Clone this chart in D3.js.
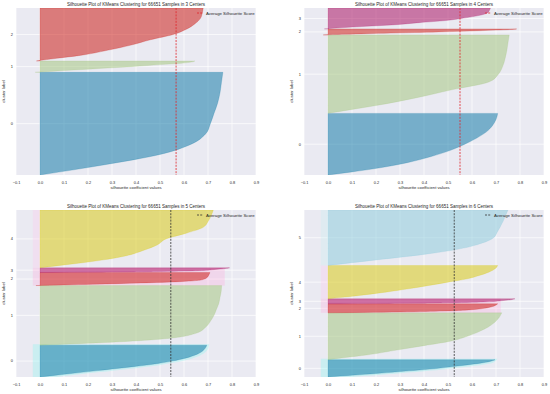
<!DOCTYPE html>
<html>
<head>
<meta charset="utf-8">
<script src="https://cdn.jsdelivr.net/npm/d3@7"></script>
<style>
  body { margin: 0; background: #fff; }
  svg { display: block; font-family: "Liberation Sans", Arial, sans-serif; }
</style>
</head>
<body>
<svg width="550" height="394"></svg>
<script>
// ---- data ----
const sampleCount = 66651;
const centerCounts = [3, 4, 5, 6];
const avgScores = [0.567, 0.55, 0.545, 0.526];
const xTicks = [-0.1, 0.0, 0.1, 0.2, 0.3, 0.4, 0.5, 0.6, 0.7, 0.8, 0.9];
// silhouette values (sorted) read at these positions of each cluster band
const quantiles = [0, 0.05, 0.1, 0.2, 0.3, 0.4, 0.5, 0.6, 0.7, 0.8, 0.9, 1];

const sizes3 = [40990, 4532, 21129];
const sizes4 = [24594, 31326, 2400, 8331];
const sizes5 = [12700, 23800, 5200, 1870, 23081];
const sizes6 = [6900, 18700, 3600, 2000, 13300, 22151];

const silhouette3 = [
  [0.0, 0.14, 0.27, 0.5, 0.63, 0.69, 0.71, 0.725, 0.74, 0.75, 0.756, 0.762],
  [-0.02, 0.02, 0.06, 0.14, 0.22, 0.3, 0.38, 0.45, 0.52, 0.59, 0.63, 0.645],
  [-0.015, 0.07, 0.16, 0.28, 0.38, 0.46, 0.555, 0.61, 0.645, 0.668, 0.676, 0.68]
];
const silhouette4 = [
  [0.0, 0.1, 0.19, 0.33, 0.43, 0.51, 0.57, 0.62, 0.66, 0.685, 0.7, 0.707],
  [0.0, 0.1, 0.2, 0.37, 0.515, 0.67, 0.71, 0.728, 0.738, 0.745, 0.75, 0.755],
  [-0.02, 0.02, 0.07, 0.16, 0.26, 0.36, 0.46, 0.55, 0.63, 0.7, 0.76, 0.786],
  [-0.015, 0.05, 0.12, 0.28, 0.38, 0.49, 0.555, 0.61, 0.65, 0.668, 0.673, 0.677]
];
const silhouette5 = [
  [0.0, 0.06, 0.12, 0.24, 0.36, 0.47, 0.55, 0.61, 0.65, 0.675, 0.688, 0.695],
  [0.0, 0.3, 0.5, 0.65, 0.69, 0.71, 0.725, 0.735, 0.745, 0.75, 0.755, 0.757],
  [-0.017, 0.1, 0.22, 0.42, 0.58, 0.66, 0.685, 0.695, 0.7, 0.703, 0.706, 0.708],
  [0.05, 0.2, 0.35, 0.5, 0.6, 0.66, 0.7, 0.72, 0.74, 0.76, 0.78, 0.79],
  [0.0, 0.1, 0.2, 0.35, 0.43, 0.49, 0.525, 0.61, 0.68, 0.7, 0.713, 0.722]
];
const silhouette6 = [
  [0.0, 0.05, 0.1, 0.2, 0.29, 0.38, 0.46, 0.52, 0.58, 0.635, 0.675, 0.696],
  [0.0, 0.08, 0.16, 0.28, 0.4, 0.515, 0.58, 0.63, 0.668, 0.695, 0.713, 0.724],
  [0.0, 0.15, 0.3, 0.48, 0.57, 0.62, 0.65, 0.67, 0.685, 0.695, 0.702, 0.707],
  [0.05, 0.2, 0.35, 0.5, 0.6, 0.66, 0.7, 0.72, 0.74, 0.76, 0.77, 0.779],
  [0.0, 0.07, 0.13, 0.24, 0.335, 0.42, 0.5, 0.58, 0.63, 0.67, 0.696, 0.707],
  [0.0, 0.1, 0.2, 0.4, 0.55, 0.64, 0.69, 0.705, 0.718, 0.73, 0.74, 0.75]
];

// ---- styling ----
const palette = ["#0272a2", "#9fc377", "#ca0b03", "#a50258", "#d7c703", "#88cada"];
const bg = "#eaeaf2";
const textColor = "#262626";

const panels = [
  { left: 16, top: 8, sizes: sizes3, values: silhouette3, avgColor: "#e0242a", ghost: [] },
  { left: 304, top: 8, sizes: sizes4, values: silhouette4, avgColor: "#e0242a", ghost: [] },
  { left: 16, top: 210, sizes: sizes5, values: silhouette5, avgColor: "#333",
    ghost: [{ c: 0, col: "#8ff7f2", halo: true }, { c: [2, 3], col: "#ffa8dc", full: 0.77 }, { c: 4, col: "#ffc8ec" }] },
  { left: 304, top: 210, sizes: sizes6, values: silhouette6, avgColor: "#333",
    ghost: [{ c: 0, col: "#8ff7f2", halo: true }, { c: [2, 3], col: "#ffa8dc", full: 0.72 }, { c: 4, col: "#ffc8ec" }, { c: 5, col: "#c8eef0" }] }
];
const W = 240, H = 167;

const svg = d3.select("svg");

panels.forEach(function (p, pi) {
  const k = centerCounts[pi];
  const g = svg.append("g");
  const right = p.left + W, bottom = p.top + H;

  const x = d3.scaleLinear().domain([-0.1, 0.9]).range([p.left, right]);
  const total = d3.sum(p.sizes) + 10 * (k + 1);
  const y = d3.scaleLinear().domain([0, total]).range([bottom, p.top]);

  // cluster bands like yellowbrick: 10 samples gap between clusters
  let yl = 10;
  const bands = p.sizes.map(function (s) {
    const b = { lo: yl, hi: yl + s, size: s };
    yl = yl + s + 10;
    return b;
  });

  g.append("rect").attr("x", p.left).attr("y", p.top).attr("width", W).attr("height", H).attr("fill", bg);

  const clipId = "clip" + pi;
  g.append("clipPath").attr("id", clipId).append("rect")
    .attr("x", p.left).attr("y", p.top).attr("width", W).attr("height", H);

  // grid
  g.append("g").selectAll("line").data(xTicks).enter().append("line")
    .attr("x1", d => x(d)).attr("x2", d => x(d)).attr("y1", p.top).attr("y2", bottom)
    .attr("stroke", "#fff").attr("stroke-width", 0.7);
  g.append("g").selectAll("line").data(bands).enter().append("line")
    .attr("x1", p.left).attr("x2", right)
    .attr("y1", d => y(d.lo + d.size / 2)).attr("y2", d => y(d.lo + d.size / 2))
    .attr("stroke", "#fff").attr("stroke-width", 0.7);

  const plot = g.append("g").attr("clip-path", "url(#" + clipId + ")");

  // faint ghost layer visible in the lower two plots
  p.ghost.forEach(function (gh) {
    const cs = Array.isArray(gh.c) ? gh.c : [gh.c];
    const lo = bands[cs[0]].lo, hi = bands[cs[cs.length - 1]].hi;
    if (gh.halo) {
      const vals = p.values[gh.c];
      const halo = d3.area()
        .y(d => y(bands[gh.c].lo + d[0] * bands[gh.c].size) + (d[0] === 1 ? -1 : 1.5))
        .x0(x(-0.03))
        .x1(d => x(d[1] + 0.01))
        .curve(d3.curveMonotoneY);
      plot.append("path").datum(quantiles.map((q, i) => [q, vals[i]]))
        .attr("d", halo).attr("fill", gh.col).attr("opacity", 0.35);
    } else {
      plot.append("rect")
        .attr("x", x(-0.03)).attr("width", x(gh.full || 0) - x(-0.03))
        .attr("y", y(hi)).attr("height", y(lo) - y(hi))
        .attr("fill", gh.col).attr("opacity", 0.3);
    }
  });

  // silhouette areas
  bands.forEach(function (b, i) {
    const vals = p.values[i];
    const area = d3.area()
      .y(d => y(b.lo + d[0] * b.size))
      .x0(x(0))
      .x1(d => x(d[1]))
      .curve(d3.curveMonotoneY);
    plot.append("path").datum(quantiles.map((q, j) => [q, vals[j]]))
      .attr("d", area)
      .attr("fill", palette[i]).attr("fill-opacity", 0.5)
      .attr("stroke", palette[i]).attr("stroke-opacity", 0.5).attr("stroke-width", 0.4);
  });

  // average silhouette score
  plot.append("line")
    .attr("x1", x(avgScores[pi])).attr("x2", x(avgScores[pi]))
    .attr("y1", p.top).attr("y2", bottom)
    .attr("stroke", p.avgColor).attr("stroke-width", 0.8).attr("stroke-dasharray", "2,1.2");

  // x tick labels
  const xAxis = d3.axisBottom(x).tickValues(xTicks).tickSize(0).tickPadding(0).tickFormat(d3.format(".1f"));
  const xa = g.append("g").attr("transform", "translate(0," + (bottom + 9) + ")").call(xAxis);
  xa.select(".domain").remove();
  xa.selectAll("text").attr("dy", 0).attr("y", 0).attr("font-size", 3.9).attr("fill", textColor)
    .attr("font-family", "Liberation Sans, Arial, sans-serif");

  // y tick labels (cluster ids)
  g.append("g").selectAll("text").data(bands).enter().append("text")
    .attr("x", p.left - 3).attr("y", d => y(d.lo + d.size / 2) + 1.4)
    .attr("text-anchor", "end").attr("font-size", 3.9).attr("fill", textColor)
    .text((d, i) => i);

  // labels and title
  g.append("text").attr("x", (p.left + right) / 2).attr("y", bottom + 14)
    .attr("text-anchor", "middle").attr("font-size", 4.2).attr("fill", textColor)
    .text("silhouette coefficient values");
  g.append("text")
    .attr("transform", "translate(" + (p.left - 11) + "," + (p.top + H / 2) + ") rotate(-90)")
    .attr("text-anchor", "middle").attr("font-size", 4.2).attr("fill", textColor)
    .text("cluster label");
  g.append("text").attr("x", (p.left + right) / 2).attr("y", p.top - 2.3)
    .attr("text-anchor", "middle").attr("font-size", 4.5).attr("fill", textColor)
    .text("Silhouette Plot of KMeans Clustering for " + sampleCount + " Samples in " + k + " Centers");

  // legend
  const ly = p.top + 5;
  g.append("line").attr("x1", right - 59).attr("x2", right - 53).attr("y1", ly).attr("y2", ly)
    .attr("stroke", p.avgColor).attr("stroke-width", 0.8).attr("stroke-dasharray", "2,1.2");
  g.append("text").attr("x", right - 50).attr("y", ly + 1.5)
    .attr("font-size", 4.3).attr("fill", textColor).text("Average Silhouette Score");
});
</script>
</body>
</html>
